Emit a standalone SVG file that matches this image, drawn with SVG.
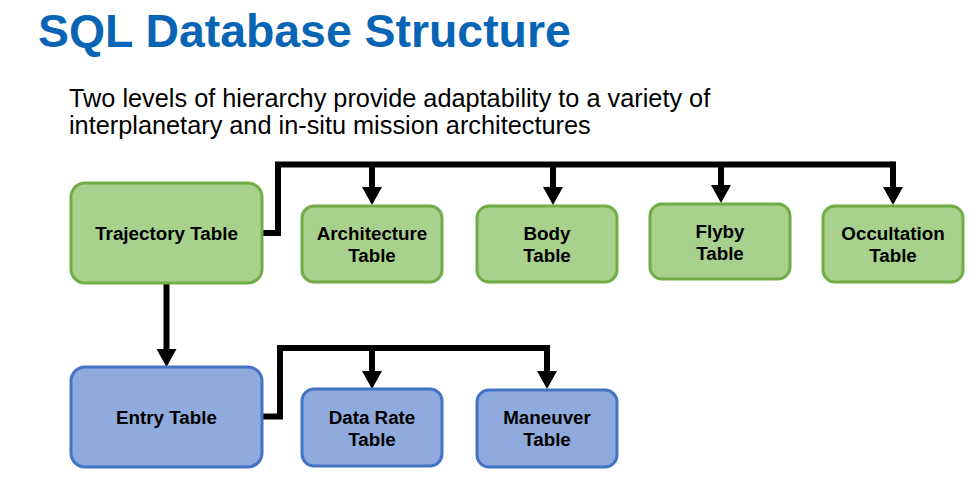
<svg xmlns="http://www.w3.org/2000/svg" width="977" height="481" viewBox="0 0 977 481">
  <defs>
    <style>
      .title { font-family: "Liberation Sans", Arial, sans-serif; font-weight: bold; font-size: 46.4px; fill: #0865b6; }
      .sub { font-family: "Liberation Sans", Arial, sans-serif; font-size: 25.3px; fill: #000; }
      .lbl { font-family: "Liberation Sans", Arial, sans-serif; font-weight: bold; font-size: 18.8px; fill: #000; text-anchor: middle; }
      .green { fill: #a9d18e; stroke: #70ad47; stroke-width: 3; }
      .blue { fill: #8faadc; stroke: #4472c4; stroke-width: 3; }
      .conn { fill: none; stroke: #000; stroke-width: 6; stroke-linejoin: miter; marker-end: url(#arrow); }
      .trunk { fill: none; stroke: #000; stroke-width: 6; stroke-linejoin: miter; }
    </style>
    <marker id="arrow" markerUnits="userSpaceOnUse" markerWidth="20" markerHeight="20" refX="0" refY="10" orient="auto" overflow="visible">
      <path d="M0,0 L18,10 L0,20 Z" fill="#000"/>
    </marker>
  </defs>

  <rect width="977" height="481" fill="#fff"/>

  <text class="title" x="38" y="47">SQL Database Structure</text>
  <text class="sub" x="69" y="107">Two levels of hierarchy provide adaptability to a variety of</text>
  <text class="sub" x="69" y="134">interplanetary and in-situ mission architectures</text>

  <g id="connectors">
    <path class="trunk" d="M262,233 H278 V164.5 H893"/>
    <path class="conn" d="M893,161.5 V187"/>
    <path class="conn" d="M372,164.5 V187"/>
    <path class="conn" d="M553,164.5 V187"/>
    <path class="conn" d="M721,164.5 V185"/>
    <path class="conn" d="M166.5,284 V349"/>
    <path class="trunk" d="M262,416.5 H280 V348 H547"/>
    <path class="conn" d="M547,345 V371"/>
    <path class="conn" d="M372,348 V371"/>
  </g>

  <g id="trajectory">
    <rect class="green" x="71" y="183" width="191" height="100" rx="14"/>
    <text class="lbl" x="166.5" y="239.5">Trajectory Table</text>
  </g>
  <g id="architecture">
    <rect class="green" x="302" y="206" width="140" height="76" rx="12"/>
    <text class="lbl" x="372" y="240">Architecture</text>
    <text class="lbl" x="372" y="262">Table</text>
  </g>
  <g id="body">
    <rect class="green" x="477" y="206" width="140" height="76" rx="12"/>
    <text class="lbl" x="547" y="240">Body</text>
    <text class="lbl" x="547" y="262">Table</text>
  </g>
  <g id="flyby">
    <rect class="green" x="650" y="204" width="140" height="75" rx="12"/>
    <text class="lbl" x="720" y="238">Flyby</text>
    <text class="lbl" x="720" y="260">Table</text>
  </g>
  <g id="occultation">
    <rect class="green" x="823" y="206" width="140" height="76" rx="12"/>
    <text class="lbl" x="893" y="240">Occultation</text>
    <text class="lbl" x="893" y="262">Table</text>
  </g>
  <g id="entry">
    <rect class="blue" x="71" y="367" width="191" height="100" rx="14"/>
    <text class="lbl" x="166.5" y="423.5">Entry Table</text>
  </g>
  <g id="datarate">
    <rect class="blue" x="302" y="389" width="140" height="77" rx="12"/>
    <text class="lbl" x="372" y="423.5">Data Rate</text>
    <text class="lbl" x="372" y="446">Table</text>
  </g>
  <g id="maneuver">
    <rect class="blue" x="477" y="390" width="140" height="77" rx="12"/>
    <text class="lbl" x="547" y="423.5">Maneuver</text>
    <text class="lbl" x="547" y="446">Table</text>
  </g>
</svg>
